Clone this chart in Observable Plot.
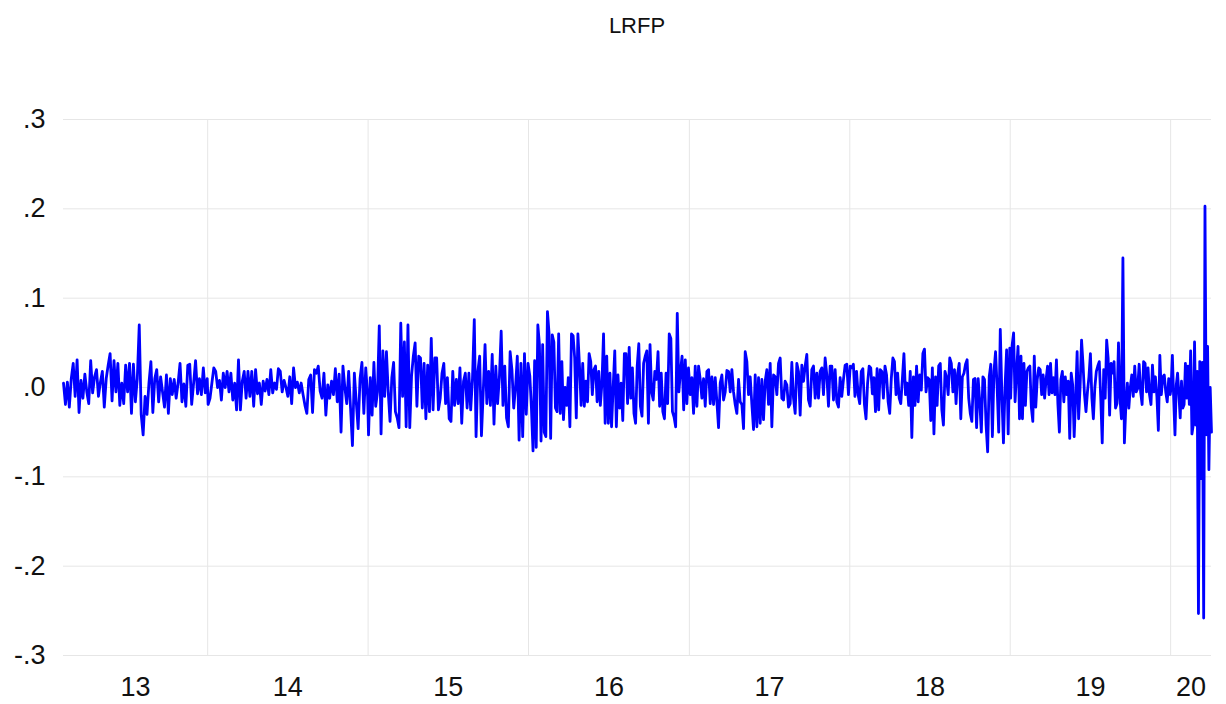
<!DOCTYPE html>
<html><head><meta charset="utf-8">
<script src="https://cdn.jsdelivr.net/npm/d3@7"></script>
<script src="https://cdn.jsdelivr.net/npm/@observablehq/plot@0.6"></script>
<style>
body{margin:0;background:#fff;font-family:"Liberation Sans",Arial,sans-serif;}
#title{margin-left:63px;width:1148px;height:50px;line-height:52px;text-align:center;font-size:22px;color:#111;}
</style></head><body>
<div id="title">LRFP</div>
<div id="chart"></div>
<script>
const seriesName = "LRFP";
const years = [2013, 2014, 2015, 2016, 2017, 2018, 2019, 2020];
const yearLabels = ["13", "14", "15", "16", "17", "18", "19", "20"];
const yearSpans = [
  ["2013-02-07", "2013-12-31"], ["2014-01-02", "2014-12-31"], ["2015-01-02", "2015-12-31"],
  ["2016-01-04", "2016-12-30"], ["2017-01-03", "2017-12-29"], ["2018-01-02", "2018-12-31"],
  ["2019-01-02", "2019-12-31"], ["2020-01-02", "2020-04-03"]
];
const yTicks = [0.3, 0.2, 0.1, 0, -0.1, -0.2, -0.3];
const yTickLabels = [".3", ".2", ".1", ".0", "-.1", "-.2", "-.3"];

const r2013 = [0.005, -0.019, 0.006, -0.022, 0.010, 0.027, -0.010, 0.031, -0.028, 0.008, -0.012, 0.015, -0.005, -0.018, 0.030, -0.006, 0.012, 0.020, -0.010, 0.006, 0.018, -0.022, 0.010, 0.025, 0.038, -0.015, 0.030, -0.005, 0.027, -0.020, 0.005, -0.018, 0.025, -0.005, 0.027, -0.029, 0.026, -0.016, 0.010, 0.070, -0.030, -0.053, -0.010,
  -0.030, 0.005, 0.029, -0.028, 0.010, 0.020, -0.016, 0.012, -0.005, -0.022, 0.014, -0.029, 0.010, -0.008, 0.009, -0.012, 0.005, 0.027, -0.016, 0.004, -0.021, 0.025, 0.026, -0.019, 0.005, 0.030, -0.007, 0.010, -0.008, 0.022, -0.006, 0.010];
const r2014 = [-0.019, -0.012, 0.005, 0.022, 0.018, 0.000, 0.008, -0.014, 0.016, 0.000, 0.018, -0.005, 0.016, -0.014, 0.005, -0.025, 0.031, -0.025, 0.007,
  0.018, -0.012, 0.018, -0.010, 0.018, -0.021, 0.020, -0.007, 0.005, -0.019, 0.007, -0.004, 0.009, -0.008, 0.020, -0.006, 0.005, -0.002, 0.021, 0.018, -0.005, 0.008, 0.000, -0.010, 0.012, -0.018, 0.022, 0.000, 0.006, -0.006, 0.005, -0.008, -0.020, -0.029, 0.009, 0.014, -0.028, 0.020, 0.016, 0.024, -0.004, -0.012, 0.016, -0.031, 0.003, -0.012, 0.007, -0.008,
  0.021, -0.016, 0.015, -0.050, 0.024, 0.000, -0.018, 0.018, -0.023, -0.065, 0.016, -0.016, -0.046, 0.010, 0.028, -0.029, 0.022, -0.010];
const r2015 = [-0.053, 0.011, -0.031, 0.028, -0.021, -0.005, 0.069, -0.052, 0.041, -0.010, 0.040, -0.005, -0.038, 0.011, 0.028, -0.027, -0.034, -0.045, 0.072, -0.010, 0.051, -0.044, 0.070, -0.045, 0.013, 0.035, 0.050, -0.021, 0.035, 0.033, -0.023, 0.027, -0.035, 0.025, -0.027, 0.055, -0.025, 0.033,
  0.033, -0.025, -0.012, 0.016, 0.027, -0.018, 0.011, -0.035, -0.038, 0.018, -0.020, 0.009, -0.018, 0.022, -0.040, 0.007, 0.016, -0.023, 0.016, -0.025, 0.010, 0.076, -0.055, 0.018, 0.035, -0.054, -0.005, 0.048, -0.018, 0.018, -0.020, 0.037, -0.041, 0.024, -0.018, 0.011, 0.063, -0.020, 0.024, -0.034, -0.044, 0.040, 0.020, -0.023, 0.000, 0.035, -0.059, 0.027, -0.055, 0.038, -0.030, 0.027];
const r2016 = [0.013, -0.023, -0.071, 0.030,
  -0.067, 0.070, 0.048, -0.060, 0.048, -0.050, -0.055, 0.085, 0.061, -0.057, 0.059, 0.051, -0.023, -0.027, 0.060, -0.029, 0.029, -0.036, 0.000, -0.020, 0.011, -0.044, 0.060, 0.058, 0.033, -0.034, 0.060, 0.024, -0.020, 0.027, -0.021, 0.007, -0.016, 0.038, 0.029, -0.008, 0.020, 0.024, -0.016, 0.018, -0.020, 0.005, 0.060, -0.040, 0.035, -0.040, 0.016, -0.044, 0.000, 0.041, -0.044, 0.014, -0.023, 0.005, -0.037, 0.038, 0.038, -0.018, 0.045, -0.012, 0.022, -0.029,
  -0.040, 0.024, 0.049, -0.021, -0.032, 0.027, 0.035, 0.041, -0.040, 0.048, -0.005, -0.014, 0.018, 0.009, 0.040, -0.021, 0.016, -0.027, -0.035, 0.016, -0.018, 0.060, 0.055, -0.027, -0.033, -0.044, 0.083, -0.005, 0.018, 0.035, -0.025, 0.031, -0.018, 0.022];
const r2017 = [-0.008, 0.011, -0.029, 0.024, -0.021, 0.024, 0.009, -0.012, 0.010, -0.021, 0.018, 0.020, -0.018, 0.012, -0.019, 0.011, -0.016, -0.045, 0.005, 0.014, -0.014, -0.005, 0.019, 0.018, -0.005,
  0.020, -0.005, -0.019, -0.029, 0.009, -0.016, -0.019, -0.046, 0.040, 0.029, -0.008, 0.012, -0.019, -0.047, 0.014, -0.044, 0.011, -0.040, 0.009, -0.036, 0.007, 0.020, -0.019, 0.027, -0.044, 0.014, 0.012, -0.008, 0.027, 0.033, -0.012, -0.014, 0.007, 0.003, -0.022, -0.018, 0.028, -0.012, -0.029, 0.027, 0.018, -0.031, 0.025, 0.007, 0.024, 0.037, -0.014, -0.021, 0.020, 0.024, -0.012, 0.016, -0.012, 0.018, 0.022, -0.008, 0.033, 0.014, -0.021, 0.024,
  0.024, -0.014, 0.020, -0.016, -0.022, 0.011, -0.010, 0.009, 0.025, 0.026, -0.008];
const r2018 = [0.024, 0.022, 0.026, -0.010, 0.018, -0.008, -0.018, 0.018, 0.021, -0.019, -0.035, 0.005, 0.024, 0.022, -0.007, 0.011, -0.027, 0.021, -0.025, 0.020, 0.018, -0.012, 0.024, 0.014, -0.016, -0.029, 0.010, 0.033, 0.029, -0.008, 0.016, -0.012, -0.018, 0.009, 0.038, -0.008, 0.005, -0.020, 0.018, -0.056, 0.012, -0.020, 0.024, -0.016, 0.014, -0.003, 0.038, 0.043, -0.005,
  0.011, 0.009, -0.037, 0.022, -0.052, 0.012, -0.020, 0.024, 0.027, -0.025, -0.042, 0.018, 0.011, -0.008, 0.033, 0.027, -0.005, 0.020, -0.018, 0.016, 0.027, -0.035, 0.012, 0.016, 0.026, 0.031, -0.012, -0.029, -0.038, 0.009, 0.010, -0.045, 0.010, -0.016, -0.050, 0.012, 0.009, -0.042, -0.072, 0.012, 0.026, -0.055, 0.018, 0.040, 0.000, -0.050, 0.065, -0.008, -0.062, 0.000, 0.042, -0.052, 0.044];
const r2019 = [-0.012, 0.047, 0.061, -0.016, 0.018, 0.046, -0.035, 0.035, -0.035, 0.027, -0.020, 0.018,
  0.022, 0.024, -0.022, -0.038, 0.035, -0.022, 0.009, 0.022, 0.020, -0.008, 0.014, -0.012, 0.009, 0.024, -0.008, 0.027, -0.006, 0.011, -0.008, 0.031, -0.019, -0.050, 0.009, 0.018, -0.016, 0.012, -0.008, 0.007, -0.057, 0.016, 0.003, -0.055, -0.012, 0.040, -0.035, 0.000, 0.053, 0.026, -0.008, -0.027, -0.005, 0.012, 0.038, -0.012, -0.035, 0.000, 0.018, 0.024, 0.029, -0.012, -0.062, 0.020, -0.012, 0.053, 0.033, -0.031, 0.027, 0.016, 0.029, -0.023, -0.018, 0.050, -0.012, -0.035, 0.145, -0.062, -0.020,
  0.005, -0.023, 0.000, 0.014, -0.010, 0.024, -0.005, -0.001, 0.026, -0.005, -0.019, 0.029, 0.027, -0.005, 0.022, -0.008, -0.019, 0.025, -0.005, 0.012, -0.010, -0.048, 0.036, -0.008, 0.012, 0.014, -0.005, -0.016, 0.010, -0.008];
const r2020 = [-0.001, 0.036, -0.012, -0.053, 0.003, 0.016, -0.008, -0.034, 0.007, -0.023, -0.019, 0.027, -0.012, 0.024, -0.019, 0.041, -0.052, -0.042, 0.051, -0.042, 0.018, -0.253, 0.029, -0.102, 0.028, -0.258, 0.203, -0.053, 0.046, -0.092, 0.000, -0.050];

const yearly = [r2013, r2014, r2015, r2016, r2017, r2018, r2019, r2020];
const rows = [];
yearly.forEach((vals, k) => {
  const a = new Date(yearSpans[k][0] + "T00:00:00Z").getTime();
  const b = new Date(yearSpans[k][1] + "T00:00:00Z").getTime();
  vals.forEach((v, i) => rows.push({date: new Date(a + (b - a) * i / (vals.length - 1)), value: v}));
});

const x0 = rows[0].date, x1 = rows[rows.length - 1].date;
const gridDates = years.slice(1).map(y => new Date(Date.UTC(y, 0, 1)));
const labelDates = years.map(y => {
  const s = Math.max(Date.UTC(y, 0, 1), +x0);
  const e = Math.min(Date.UTC(y + 1, 0, 1), +x1);
  return new Date((s + e) / 2);
});

const chart = Plot.plot({
  width: 1226, height: 654,
  marginTop: 69, marginBottom: 49, marginLeft: 63, marginRight: 15,
  style: {fontFamily: "'Liberation Sans', Arial, sans-serif", fontSize: "27px", color: "#111", background: "#fff"},
  x: {type: "utc", domain: [x0, x1]},
  y: {domain: [-0.3, 0.3]},
  marks: [
    Plot.gridY(yTicks, {stroke: "#e6e6e6", strokeOpacity: 1, strokeWidth: 1}),
    Plot.gridX(gridDates, {stroke: "#e6e6e6", strokeOpacity: 1, strokeWidth: 1}),
    Plot.axisY(yTicks, {tickSize: 0, tickPadding: 18, label: null, tickFormat: v => yTickLabels[yTicks.indexOf(v)]}),
    Plot.axisX(labelDates, {tickSize: 0, tickPadding: 21, label: null, tickFormat: d => yearLabels[years.indexOf(d.getUTCFullYear())]}),
    Plot.line(rows, {x: "date", y: "value", stroke: "#0000ff", strokeWidth: 2.8, strokeLinejoin: "round"})
  ]
});
document.getElementById("chart").appendChild(chart);
</script>
</body></html>
